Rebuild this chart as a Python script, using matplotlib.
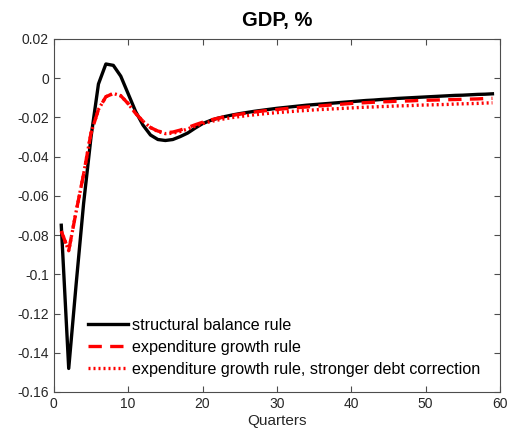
import matplotlib
matplotlib.use("Agg")
import matplotlib.pyplot as plt
import numpy as np

plt.rcParams['font.family'] = ['Liberation Sans', 'DejaVu Sans']

quarters = list(range(1, 60))

structural = [
    -0.075, -0.148, -0.105, -0.064, -0.030, -0.003, 0.0072, 0.0065, 0.001, -0.008,
    -0.017, -0.024, -0.029, -0.0313, -0.0318, -0.0313, -0.0298, -0.028, -0.0255, -0.0232,
    -0.0217, -0.0205, -0.0196, -0.0188, -0.0181, -0.0175, -0.0169, -0.0164, -0.0159, -0.0154,
    -0.0150, -0.0146, -0.0142, -0.0138, -0.0135, -0.0132, -0.0129, -0.0126, -0.0123, -0.0120,
    -0.0117, -0.0114, -0.0112, -0.0109, -0.0107, -0.0104, -0.0102, -0.0100, -0.0098, -0.0096,
    -0.0094, -0.0092, -0.0090, -0.0088, -0.0087, -0.0085, -0.0083, -0.0082, -0.0080,
]

expenditure = [
    -0.078, -0.088, -0.068, -0.049, -0.028, -0.016, -0.0095, -0.0078, -0.009, -0.013,
    -0.018, -0.022, -0.0252, -0.027, -0.0278, -0.0275, -0.0265, -0.0252, -0.0238, -0.0225,
    -0.0214, -0.0205, -0.0197, -0.0190, -0.0184, -0.0178, -0.0173, -0.0168, -0.0164, -0.0160,
    -0.0156, -0.0153, -0.0150, -0.0147, -0.0144, -0.0141, -0.0138, -0.0135, -0.0132, -0.0129,
    -0.0127, -0.0125, -0.0123, -0.0121, -0.0120, -0.0118, -0.0117, -0.0116, -0.0114, -0.0113,
    -0.0112, -0.0111, -0.0110, -0.0109, -0.0108, -0.0107, -0.0106, -0.0104, -0.0103,
]

expenditure_strong = [
    -0.078, -0.088, -0.068, -0.049, -0.028, -0.016, -0.0095, -0.0078, -0.009, -0.013,
    -0.018, -0.022, -0.0252, -0.0272, -0.0283, -0.0281, -0.0272, -0.0259, -0.0245, -0.0232,
    -0.0222, -0.0214, -0.0207, -0.0201, -0.0196, -0.0191, -0.0187, -0.0183, -0.0179, -0.0176,
    -0.0173, -0.0170, -0.0167, -0.0165, -0.0162, -0.0160, -0.0158, -0.0156, -0.0154, -0.0152,
    -0.0150, -0.0148, -0.0147, -0.0145, -0.0144, -0.0142, -0.0141, -0.0140, -0.0138, -0.0137,
    -0.0136, -0.0135, -0.0134, -0.0132, -0.0131, -0.0130, -0.0129, -0.0127, -0.0126,
]

labels = [
    "structural balance rule",
    "expenditure growth rule",
    "expenditure growth rule, stronger debt correction",
]

x_ticks = [0, 10, 20, 30, 40, 50, 60]
y_ticks = [-0.16, -0.14, -0.12, -0.1, -0.08, -0.06, -0.04, -0.02, 0, 0.02]
y_ticklabels = ["-0.16", "-0.14", "-0.12", "-0.1", "-0.08", "-0.06", "-0.04", "-0.02", "0", "0.02"]

fig = plt.figure(figsize=(5.08, 4.32), dpi=100)
ax = fig.add_axes([0.106, 0.0926, 0.878, 0.8174])

lw = 2.4
ax.plot(quarters, structural, color='black', lw=lw, label=labels[0])
ax.plot(quarters, expenditure, color='red', lw=lw, linestyle=(0, (4, 2.5)), label=labels[1])
ax.plot(quarters, expenditure_strong, color='red', lw=lw, linestyle=(0, (0.6, 0.9)), label=labels[2])

ax.set_xlim(0, 60)
ax.set_ylim(-0.16, 0.02)
ax.set_xticks(x_ticks)
ax.set_yticks(y_ticks)
ax.set_yticklabels(y_ticklabels)

axcol = '#4d4d4d'
for s in ax.spines.values():
    s.set_color(axcol)
    s.set_linewidth(0.8)
ax.tick_params(direction='in', top=True, right=True, length=4, width=0.8,
               colors=axcol, labelcolor='#262626', labelsize=10)

ax.set_xlabel("Quarters", fontsize=11, color='#262626', labelpad=2)
ax.set_title("GDP, %", fontsize=14.5, fontweight='bold', pad=9)

leg = ax.legend(loc='lower left', bbox_to_anchor=(0.055, 0.015), frameon=False,
                fontsize=11.6, handlelength=2.45, handletextpad=0.3, labelspacing=0.45,
                borderaxespad=0.2)

fig.savefig("out.png", dpi=100)
